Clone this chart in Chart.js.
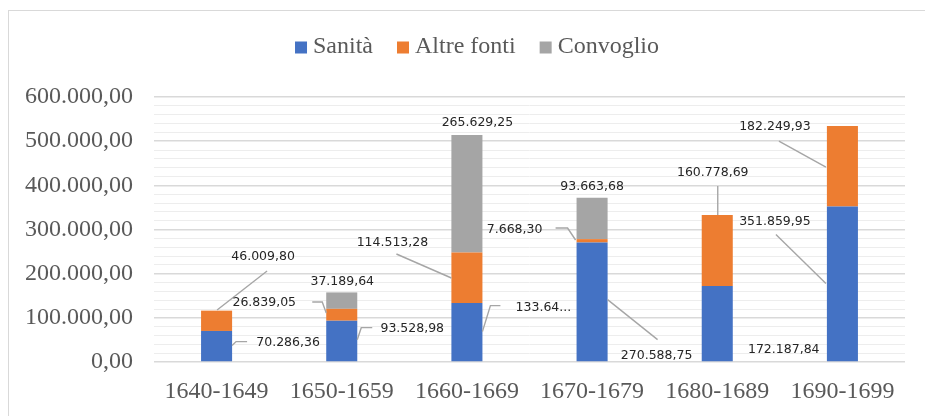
<!DOCTYPE html>
<html>
<head>
<meta charset="utf-8">
<script src="https://cdn.jsdelivr.net/npm/chart.js@4"></script>
<style>
html, body { margin: 0; padding: 0; background: #fff; }
#wrap { position: relative; width: 925px; height: 416px; overflow: hidden; }
#frame { position: absolute; left: 8px; top: 10px; width: 1000px; height: 1000px; border: 1px solid #d9d9d9; }
canvas { position: absolute; left: 0; top: 0; }
</style>
</head>
<body>
<div id="wrap"><div id="frame"></div><canvas id="grafico" width="925" height="416"></canvas></div>
<script>
// dati
const periodi = ['1640-1649', '1650-1659', '1660-1669', '1670-1679', '1680-1689', '1690-1699'];
const sanita = [70286.36, 93528.98, 133640.00, 270588.75, 172187.84, 351859.95];
const altreFonti = [46009.80, 26839.05, 114513.28, 7668.30, 160778.69, 182249.93];
const convoglio = [0, 37189.64, 265629.25, 93663.68, 0, 0];
const yMax = 600000;
const yPassoMaggiore = 100000;
const yPassoMinore = 20000;

// posizione etichette: [dx, dy, linea guida, taglio] rispetto al centro del segmento
const posSanita = [
    [71.5, -3.5, [[30.5, -4.5], [19.5, -4.5], [15.5, -0.5]]],
    [70.5, -12.3, [[30.5, -13.3], [19.5, -13.3], [15.5, -1.3]]],
    [76.5, -24.5, [[33.5, -26.5], [23.5, -26.5], [15.5, -0.5]], 6],
    [64.5, 53.8, [[65.5, 37.8], [15.5, -2.2]]],
    [66.5, 26],
    [-67.5, -62.3, [[-66.5, -49.3], [-16.5, -0.3]]]
];
const posAltre = [
    [46.5, -63.8, [[50.5, -49.8], [0.5, -10.8]]],
    [-77.5, -11.8, [[-29.5, -12.8], [-19.5, -12.8], [-15.5, -1.8]]],
    [-74.5, -34.7, [[-70.5, -23.7], [-15.5, 0.3]]],
    [-77.5, -10.8, [[-36.5, -12.8], [-24.5, -12.8], [-16.5, -0.8]]],
    [-4.5, -77.4, [[0.5, -64.4], [0.5, -35.4]]],
    [-67.5, -39.3, [[-63.5, -25.3], [-16.5, 0.7]]]
];
const posConvoglio = [null, [0.5, -18.6], [10.5, -70.8], [0, -31.4], null, null];
const posEtichette = [posSanita, posAltre, posConvoglio];

function formatoIt(v) {
    const [intero, dec] = v.toFixed(2).split('.');
    return intero.replace(/\B(?=(\d{3})+(?!\d))/g, '.') + ',' + dec;
}

// etichette con linee guida
const etichette = {
    id: 'etichette',
    afterDatasetsDraw(chart) {
        const ctx = chart.ctx;
        ctx.save();
        ctx.strokeStyle = '#a6a6a6';
        ctx.lineWidth = 1.4;
        ctx.fillStyle = '#262626';
        ctx.font = '12.5px "DejaVu Sans"';
        ctx.textAlign = 'center';
        ctx.textBaseline = 'middle';
        chart.data.datasets.forEach((ds, i) => {
            const meta = chart.getDatasetMeta(i);
            meta.data.forEach((bar, j) => {
                const pos = posEtichette[i][j];
                if (!pos || !ds.data[j]) return;
                const cx = bar.x, cy = (bar.y + bar.base) / 2;
                const [dx, dy, linea, taglio] = pos;
                if (linea) {
                    ctx.beginPath();
                    linea.forEach(([px, py], k) => k ? ctx.lineTo(cx + px, cy + py) : ctx.moveTo(cx + px, cy + py));
                    ctx.stroke();
                }
                let testo = formatoIt(ds.data[j]);
                if (taglio) testo = testo.slice(0, taglio) + '...';
                ctx.fillText(testo, cx + dx, cy + dy);
            });
        });
        ctx.restore();
    }
};

// legenda in alto
const legenda = {
    id: 'legenda',
    afterDraw(chart) {
        const ctx = chart.ctx;
        ctx.save();
        ctx.font = '24px "Liberation Serif"';
        ctx.textBaseline = 'alphabetic';
        const voci = chart.data.datasets.map(ds => ({ testo: ds.label, colore: ds.backgroundColor, w: ctx.measureText(ds.label).width }));
        const totale = voci.reduce((a, v) => a + 12 + 6 + v.w, 0) + 24 * (voci.length - 1);
        let x = 477 - totale / 2;
        voci.forEach(v => {
            ctx.fillStyle = v.colore;
            ctx.fillRect(x, 41.5, 12, 12);
            ctx.fillStyle = '#595959';
            ctx.fillText(v.testo, x + 18, 53);
            x += 18 + v.w + 24;
        });
        ctx.restore();
    }
};

new Chart(document.getElementById('grafico'), {
    type: 'bar',
    data: {
        labels: periodi,
        datasets: [
            { label: 'Sanità', data: sanita, backgroundColor: '#4472c4' },
            { label: 'Altre fonti', data: altreFonti, backgroundColor: '#ed7d31' },
            { label: 'Convoglio', data: convoglio, backgroundColor: '#a5a5a5' }
        ]
    },
    options: {
        responsive: false,
        animation: false,
        barPercentage: 0.248,
        categoryPercentage: 1,
        layout: { padding: { left: 0, right: 20, top: 97, bottom: 0 } },
        plugins: { legend: { display: false }, tooltip: { enabled: false } },
        scales: {
            x: {
                stacked: true,
                grid: { display: false },
                border: { display: false },
                ticks: { color: '#595959', font: { family: 'Liberation Serif', size: 24 }, padding: 7, maxRotation: 0 },
                afterFit: s => { s.height = 54; }
            },
            y: {
                stacked: true,
                min: 0,
                max: yMax,
                border: { display: false },
                grid: {
                    drawTicks: false,
                    color: c => c.tick && c.tick.value % yPassoMaggiore === 0 ? '#d9d9d9' : '#ededed',
                    lineWidth: c => c.tick && c.tick.value % yPassoMaggiore === 0 ? 1.5 : 1
                },
                ticks: {
                    stepSize: yPassoMinore,
                    autoSkip: false,
                    maxTicksLimit: 100,
                    padding: 21,
                    color: '#595959',
                    font: { family: 'Liberation Serif', size: 24 },
                    callback: v => v % yPassoMaggiore === 0 ? formatoIt(v) : ''
                },
                afterFit: s => { s.width = 154; }
            }
        }
    },
    plugins: [etichette, legenda]
});
</script>
</body>
</html>
